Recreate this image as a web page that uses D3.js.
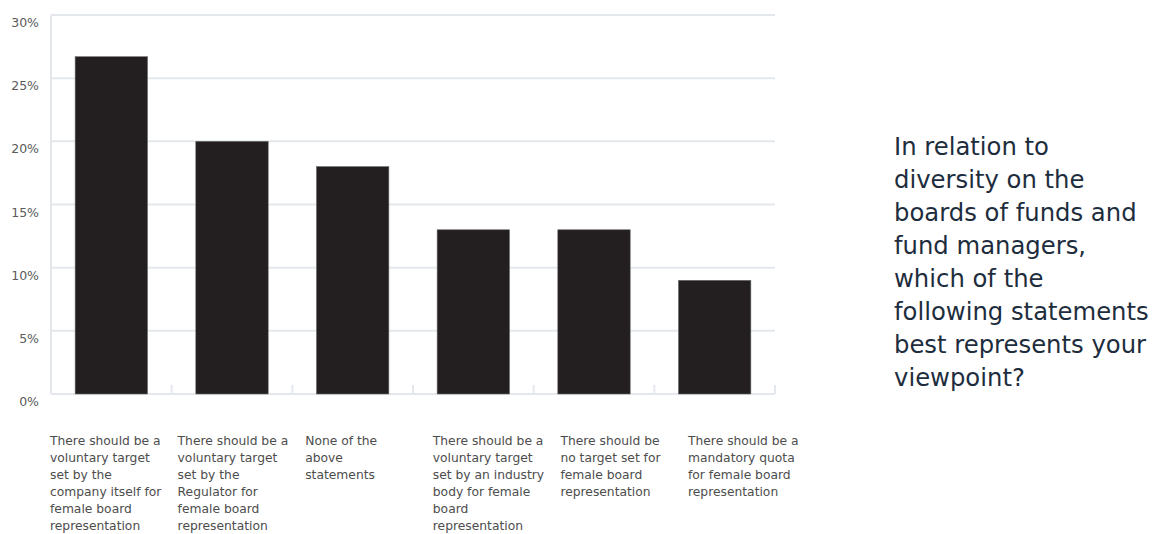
<!DOCTYPE html>
<html>
<head>
<meta charset="utf-8">
<script src="https://cdn.jsdelivr.net/npm/d3@7"></script>
<style>
  html, body { margin: 0; padding: 0; background: #ffffff; }
  svg { display: block; }
  text { font-family: "DejaVu Sans", "Noto Sans", sans-serif; }
</style>
</head>
<body>
<svg id="chart" width="1165" height="534"></svg>
<script>
// Survey responses: share of respondents choosing each statement
const categories = [
  "There should be a voluntary target set by the company itself for female board representation",
  "There should be a voluntary target set by the Regulator for female board representation",
  "None of the above statements",
  "There should be a voluntary target set by an industry body for female board representation",
  "There should be no target set for female board representation",
  "There should be a mandatory quota for female board representation"
];
const categoryLines = [
  ["There should be a", "voluntary target", "set by the", "company itself for", "female board", "representation"],
  ["There should be a", "voluntary target", "set by the", "Regulator for", "female board", "representation"],
  ["None of the", "above", "statements"],
  ["There should be a", "voluntary target", "set by an industry", "body for female", "board", "representation"],
  ["There should be", "no target set for", "female board", "representation"],
  ["There should be a", "mandatory quota", "for female board", "representation"]
];
const values = [26.7, 20, 18, 13, 13, 9];
const yTicks = [0, 5, 10, 15, 20, 25, 30];
const questionLines = [
  "In relation to",
  "diversity on the",
  "boards of funds and",
  "fund managers,",
  "which of the",
  "following statements",
  "best represents your",
  "viewpoint?"
];

const svg = d3.select("#chart");
const plot = { left: 51, right: 775, top: 15, bottom: 394 };

const x = d3.scaleBand()
  .domain(categories)
  .range([plot.left, plot.right])
  .paddingInner(0.4)
  .paddingOuter(0.2);

const y = d3.scaleLinear()
  .domain([0, 30])
  .range([plot.bottom, plot.top]);

const gridColor = "#e4e8ec";

// horizontal gridlines
svg.append("g")
  .selectAll("line")
  .data(yTicks)
  .join("line")
  .attr("x1", plot.left)
  .attr("x2", plot.right)
  .attr("y1", d => y(d))
  .attr("y2", d => y(d))
  .attr("stroke", gridColor)
  .attr("stroke-width", 2);

// left axis line
svg.append("line")
  .attr("x1", plot.left).attr("x2", plot.left)
  .attr("y1", plot.top).attr("y2", plot.bottom)
  .attr("stroke", gridColor)
  .attr("stroke-width", 2);

// small ticks between categories on the baseline
const step = x.step();
const boundaries = d3.range(1, categories.length + 1).map(i => plot.left + i * step);
svg.append("g")
  .selectAll("line")
  .data(boundaries)
  .join("line")
  .attr("x1", d => d).attr("x2", d => d)
  .attr("y1", plot.bottom - 9).attr("y2", plot.bottom)
  .attr("stroke", gridColor)
  .attr("stroke-width", 2);

// y tick labels
svg.append("g")
  .selectAll("text")
  .data(yTicks)
  .join("text")
  .attr("x", 39)
  .attr("y", d => y(d) + 12)
  .attr("text-anchor", "end")
  .attr("font-size", 12.5)
  .attr("fill", "#5a5a5a")
  .text(d => d + "%");

// bars
svg.append("g")
  .selectAll("rect")
  .data(values)
  .join("rect")
  .attr("x", (d, i) => x(categories[i]))
  .attr("y", d => y(d))
  .attr("width", x.bandwidth())
  .attr("height", d => plot.bottom - y(d))
  .attr("fill", "#231f20")
  .attr("stroke", "#6b6b6b")
  .attr("stroke-width", 0.6);

// category labels, wrapped
const labelScale = d3.scalePoint()
  .domain(categories)
  .range([50, 50 + 127.6 * (categories.length - 1)]);

const labels = svg.append("g")
  .selectAll("text")
  .data(categories)
  .join("text")
  .attr("x", d => labelScale(d))
  .attr("y", 444.5)
  .attr("font-size", 12.3)
  .attr("fill", "#4d4d4d");

labels.each(function(d, i) {
  d3.select(this).selectAll("tspan")
    .data(categoryLines[i])
    .join("tspan")
    .attr("x", labelScale(d))
    .attr("dy", (t, j) => j === 0 ? 0 : 17.1)
    .text(t => t);
});

// question text on the right
svg.append("text")
  .attr("x", 894)
  .attr("y", 155)
  .attr("font-size", 24.3)
  .attr("fill", "#1e2d3d")
  .selectAll("tspan")
  .data(questionLines)
  .join("tspan")
  .attr("x", 894)
  .attr("dy", (t, j) => j === 0 ? 0 : 33)
  .text(t => t);
</script>
</body>
</html>
